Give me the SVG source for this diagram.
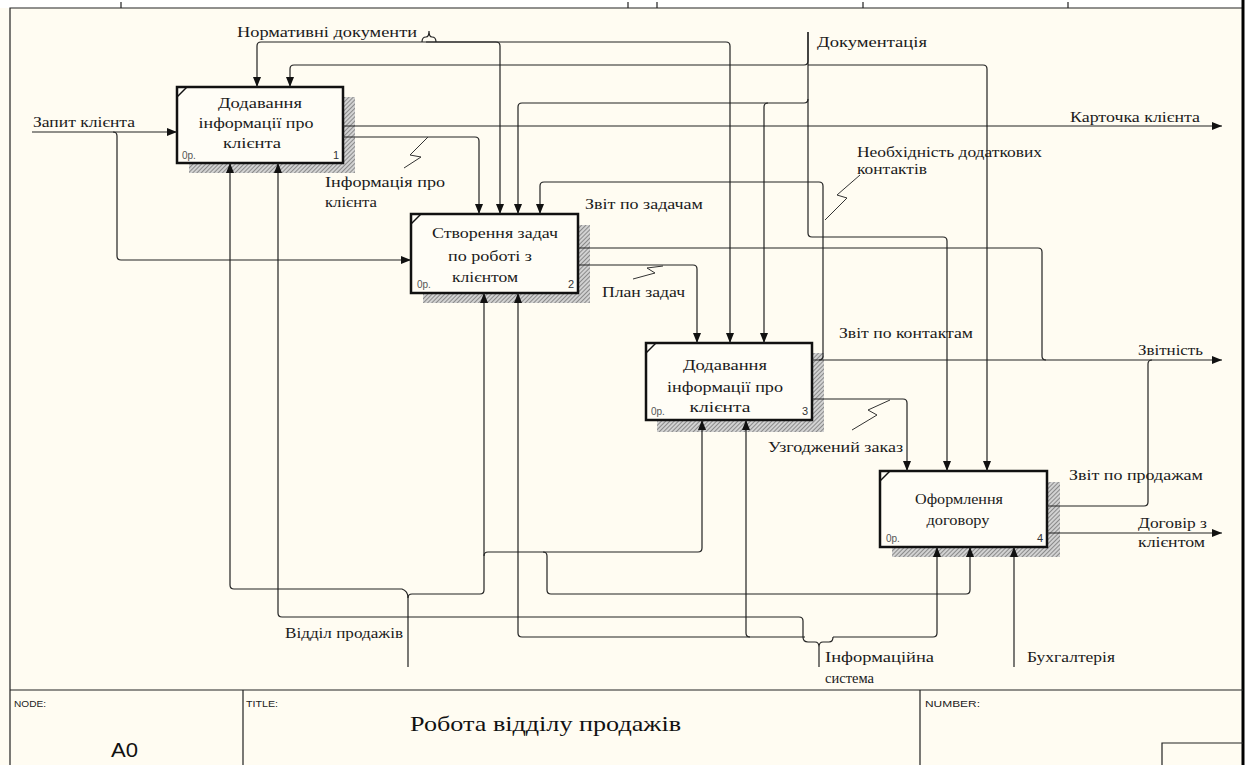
<svg xmlns="http://www.w3.org/2000/svg" width="1248" height="765" viewBox="0 0 1248 765">
  <style>
    .frame { stroke: #222; stroke-width: 1.2; fill: none; }
    .box { fill: #FFFDF6; stroke: #111; stroke-width: 2.5; }
    .shadow { fill: url(#hatch); }
    .corner { stroke: #111; stroke-width: 1.5; }
    .title { font-family: "Liberation Serif", "DejaVu Serif", serif; font-size: 15.5px; fill: #1a1a1a; text-anchor: middle; }
    .lbl { font-family: "Liberation Serif", "DejaVu Serif", serif; font-size: 15.5px; fill: #1a1a1a; }
    .cost { font-family: "Liberation Sans", Arial, sans-serif; font-size: 10px; fill: #555; }
    .num { font-family: "Liberation Sans", Arial, sans-serif; font-size: 11px; fill: #333; text-anchor: end; }
    .arrow { stroke: #222; stroke-width: 1.2; fill: none; marker-end: url(#head); }
    .line { stroke: #222; stroke-width: 1.2; fill: none; }
    .squig { stroke: #333; stroke-width: 1; fill: none; }
    .small { font-family: "Liberation Sans", Arial, sans-serif; font-size: 9.5px; fill: #222; }
  </style>
  <defs>
    <marker id="head" markerUnits="userSpaceOnUse" markerWidth="10" markerHeight="8" refX="10" refY="4" orient="auto">
      <path d="M0,0 L10,4 L0,8 z" fill="#111"/>
    </marker>
    <pattern id="hatch" width="3" height="3" patternUnits="userSpaceOnUse" patternTransform="rotate(45)">
      <rect width="3" height="3" fill="#d2d2d2"/>
      <line x1="0" y1="0" x2="0" y2="3" stroke="#5a5a5a" stroke-width="1.2"/>
    </pattern>
  </defs>

  <!-- sheet -->
  <rect x="0" y="0" width="1248" height="765" fill="#FFFCF2"/>
  <rect x="0" y="0" width="1248" height="8" fill="#FFFFFF"/>
  <rect x="1244" y="0" width="4" height="765" fill="#FFFFFF"/>

  <!-- frame and ruler ticks -->
  <g id="frame">
    <path class="frame" d="M10,765 V8 H1243"/>
    <path class="frame" d="M121,2 V8 M628,2 V8 M657,2 V8 M863,2 V8 M1068,2 V8"/>
    <line x1="1243" y1="0" x2="1243" y2="765" stroke="#000" stroke-width="3"/>
  </g>

  <!-- activity boxes -->
  <g id="node-1">
    <rect class="shadow" x="189" y="97" width="166" height="76"/>
    <rect class="box" x="177" y="87" width="166" height="76"/>
    <line class="corner" x1="177" y1="97" x2="187" y2="87"/>
    <text class="title" x="260" y="108" textLength="84" lengthAdjust="spacingAndGlyphs">Додавання</text>
    <text class="title" x="256" y="128" textLength="115" lengthAdjust="spacingAndGlyphs">інформації про</text>
    <text class="title" x="252" y="148" textLength="58" lengthAdjust="spacingAndGlyphs">клієнта</text>
    <text class="cost" x="182" y="159">0р.</text>
    <text class="num" x="339" y="159">1</text>
  </g>

  <g id="node-2">
    <rect class="shadow" x="423" y="225" width="167" height="78"/>
    <rect class="box" x="411" y="214" width="167" height="79"/>
    <line class="corner" x1="411" y1="224" x2="421" y2="214"/>
    <text class="title" x="495" y="238" textLength="126" lengthAdjust="spacingAndGlyphs">Створення задач</text>
    <text class="title" x="490" y="261" textLength="84" lengthAdjust="spacingAndGlyphs">по роботі з</text>
    <text class="title" x="485" y="282" textLength="66" lengthAdjust="spacingAndGlyphs">клієнтом</text>
    <text class="cost" x="417" y="288">0р.</text>
    <text class="num" x="574" y="288">2</text>
  </g>

  <g id="node-3">
    <rect class="shadow" x="657" y="353" width="167" height="79"/>
    <rect class="box" x="646" y="343" width="166" height="77"/>
    <line class="corner" x1="646" y1="353" x2="656" y2="343"/>
    <text class="title" x="725" y="370" textLength="84" lengthAdjust="spacingAndGlyphs">Додавання</text>
    <text class="title" x="725" y="392" textLength="116" lengthAdjust="spacingAndGlyphs">інформації про</text>
    <text class="title" x="720" y="412" textLength="61" lengthAdjust="spacingAndGlyphs">клієнта</text>
    <text class="cost" x="651" y="415">0р.</text>
    <text class="num" x="808" y="415">3</text>
  </g>

  <g id="node-4">
    <rect class="shadow" x="892" y="482" width="168" height="75"/>
    <rect class="box" x="880" y="471" width="167" height="76"/>
    <line class="corner" x1="880" y1="481" x2="890" y2="471"/>
    <text class="title" x="959" y="504" textLength="88" lengthAdjust="spacingAndGlyphs">Оформлення</text>
    <text class="title" x="958" y="525" textLength="63" lengthAdjust="spacingAndGlyphs">договору</text>
    <text class="cost" x="886" y="542">0р.</text>
    <text class="num" x="1043" y="542">4</text>
  </g>

  <!-- arrows between activities and boundary -->
  <g id="connectors">
    <!-- inputs -->
    <path class="arrow" d="M32,132 H177"/>
    <path class="arrow" d="M113,132 Q117,132 117,136 V256 Q117,260 121,260 H411"/>

    <!-- Нормативні документи -->
    <path class="arrow" d="M426,42 H261 Q257,42 257,46 V87"/>
    <path class="arrow" d="M426,42 H496 Q500,42 500,46 V214"/>
    <path class="arrow" d="M426,42 H726 Q730,42 730,46 V343"/>
    <path class="line" d="M422,42 Q422,37 426,37 Q429,37 429,31 Q429,37 432,37 Q436,37 436,42"/>

    <!-- Документація -->
    <path class="arrow" d="M808,32 V61 Q808,65 804,65 H294 Q290,65 290,69 V87"/>
    <path class="arrow" d="M808,65 H983 Q987,65 987,69 V471"/>
    <path class="arrow" d="M808,99 Q808,103 804,103 H522 Q518,103 518,107 V214"/>
    <path class="arrow" d="M768,103 Q764,103 764,107 V343"/>
    <path class="arrow" d="M808,32 V233 Q808,237 812,237 H943 Q947,237 947,241 V471"/>

    <!-- outputs of 1 -->
    <path class="arrow" d="M343,126 H1222"/>
    <path class="arrow" d="M343,137 H475 Q479,137 479,141 V214"/>
    <path class="squig" d="M428,137 L410,155 L421,157 L404,168"/>

    <!-- outputs of 2 -->
    <path class="line" d="M578,248 H1038 Q1042,248 1042,252 V356 Q1042,360 1046,360"/>
    <path class="arrow" d="M578,265 H693 Q697,265 697,269 V343"/>
    <path class="squig" d="M663,266 L647,268 L655,273 L633,279"/>

    <!-- outputs of 3 -->
    <path class="arrow" d="M812,360 H1222"/>
    <path class="arrow" d="M819,360 Q823,360 823,356 V186 Q823,182 819,182 H544 Q540,182 540,186 V214"/>
    <path class="squig" d="M825,220 L847,198 L837,195 L860,175"/>
    <path class="arrow" d="M812,399 H903 Q907,399 907,403 V471"/>
    <path class="squig" d="M890,400 L868,410 L877,415 L852,430"/>

    <!-- outputs of 4 -->
    <path class="line" d="M1047,506 H1144 Q1148,506 1148,502 V364 Q1148,360 1152,360"/>
    <path class="arrow" d="M1047,533 H1222"/>

    <!-- Відділ продажів -->
    <path class="arrow" d="M408,667 V598 Q408,591 402,589 H234 Q230,589 230,585 V163"/>
    <path class="arrow" d="M408,598 Q408,594 412,594 H480 Q484,594 484,590 V293"/>
    <path class="arrow" d="M484,556 Q484,552 488,552 H698 Q702,552 702,548 V420"/>
    <path class="arrow" d="M543,552 Q547,552 547,556 V590 Q547,594 551,594 H966 Q970,594 970,590 V547"/>

    <!-- Інформаційна система -->
    <path class="arrow" d="M805,637 H522 Q518,637 518,633 V293"/>
    <path class="arrow" d="M750,637 Q746,637 746,633 V420"/>
    <path class="arrow" d="M833,637 H933 Q937,637 937,633 V547"/>
    <path class="arrow" d="M803,637 V621 Q803,617 799,617 H282 Q278,617 278,613 V163"/>
    <path class="line" d="M803,637 Q803,642 808,642 H815 Q819,642 819,647 Q819,642 823,642 H829 Q833,642 833,637"/>
    <path class="line" d="M819,647 V667"/>

    <!-- Бухгалтерія -->
    <path class="arrow" d="M1014,667 V547"/>
  </g>

  <!-- arrow labels -->
  <g id="labels">
    <text class="lbl" x="237" y="37" textLength="180" lengthAdjust="spacingAndGlyphs">Нормативні документи</text>
    <text class="lbl" x="817" y="47" textLength="110" lengthAdjust="spacingAndGlyphs">Документація</text>
    <text class="lbl" x="33" y="127" textLength="102" lengthAdjust="spacingAndGlyphs">Запит клієнта</text>
    <text class="lbl" x="1070" y="122" textLength="130" lengthAdjust="spacingAndGlyphs">Карточка клієнта</text>
    <text class="lbl" x="325" y="187" textLength="120" lengthAdjust="spacingAndGlyphs">Інформація про</text>
    <text class="lbl" x="325" y="207" textLength="52" lengthAdjust="spacingAndGlyphs">клієнта</text>
    <text class="lbl" x="585" y="209" textLength="118" lengthAdjust="spacingAndGlyphs">Звіт по задачам</text>
    <text class="lbl" x="857" y="157" textLength="185" lengthAdjust="spacingAndGlyphs">Необхідність додаткових</text>
    <text class="lbl" x="857" y="174" textLength="70" lengthAdjust="spacingAndGlyphs">контактів</text>
    <text class="lbl" x="602" y="297" textLength="83" lengthAdjust="spacingAndGlyphs">План задач</text>
    <text class="lbl" x="839" y="338" textLength="134" lengthAdjust="spacingAndGlyphs">Звіт по контактам</text>
    <text class="lbl" x="1138" y="355" textLength="65" lengthAdjust="spacingAndGlyphs">Звітність</text>
    <text class="lbl" x="768" y="452" textLength="135" lengthAdjust="spacingAndGlyphs">Узгоджений заказ</text>
    <text class="lbl" x="1069" y="480" textLength="134" lengthAdjust="spacingAndGlyphs">Звіт по продажам</text>
    <text class="lbl" x="1138" y="528" textLength="69" lengthAdjust="spacingAndGlyphs">Договір з</text>
    <text class="lbl" x="1138" y="547" textLength="67" lengthAdjust="spacingAndGlyphs">клієнтом</text>
    <text class="lbl" x="285" y="638" textLength="118" lengthAdjust="spacingAndGlyphs">Відділ продажів</text>
    <text class="lbl" x="825" y="662" textLength="109" lengthAdjust="spacingAndGlyphs">Інформаційна</text>
    <text class="lbl" x="825" y="683" textLength="49" lengthAdjust="spacingAndGlyphs">система</text>
    <text class="lbl" x="1027" y="662" textLength="88" lengthAdjust="spacingAndGlyphs">Бухгалтерія</text>
  </g>

  <!-- title block -->
  <g id="title-block">
    <path class="frame" d="M10,690 H1243 M243,690 V765 M920,690 V765 M1162,765 V743 H1243"/>
    <text class="small" x="14" y="707" textLength="32" lengthAdjust="spacingAndGlyphs">NODE:</text>
    <text class="small" x="246" y="707" textLength="32" lengthAdjust="spacingAndGlyphs">TITLE:</text>
    <text class="small" x="925" y="707" textLength="55" lengthAdjust="spacingAndGlyphs">NUMBER:</text>
    <text x="111" y="757" font-family="Liberation Sans, Arial, sans-serif" font-size="20" fill="#111" textLength="27" lengthAdjust="spacingAndGlyphs">A0</text>
    <text x="410" y="731" font-family="Liberation Serif, DejaVu Serif, serif" font-size="22" fill="#111" textLength="271" lengthAdjust="spacingAndGlyphs">Робота відділу продажів</text>
  </g>
</svg>
